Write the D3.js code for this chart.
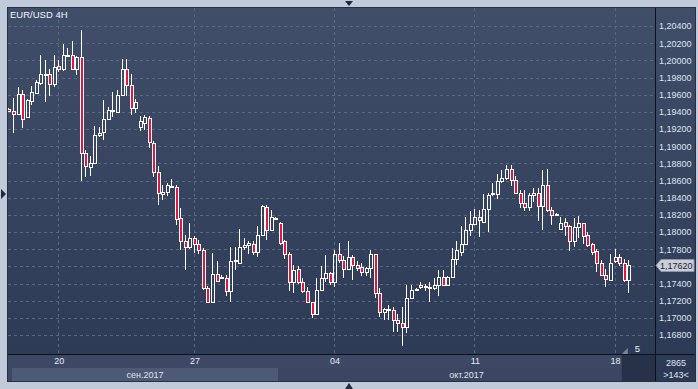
<!DOCTYPE html>
<html>
<head>
<meta charset="utf-8">
<script src="https://cdn.jsdelivr.net/npm/d3@7"></script>
<style>
  body { margin: 0; background: #c0cad8; }
  svg { display: block; font-family: "Liberation Sans", Arial, sans-serif; }
</style>
</head>
<body>
<svg id="chart" width="698" height="389"></svg>
<script>
// EUR/USD 4H candles
const opens = [
  1.1943,1.1941,1.1938,1.1961,1.1934,1.1953,1.1962,1.1974,1.1984,1.1984,1.1973,1.1993,1.1990,1.2006,1.2006,1.1990,
  1.2004,1.1892,1.1876,1.1881,1.1913,1.1916,1.1932,1.1942,1.1940,1.1960,1.1990,1.1971,1.1944,1.1922,1.1927,1.1933,
  1.1904,1.1870,1.1844,1.1847,1.1853,1.1853,1.1816,1.1790,1.1782,1.1793,1.1786,1.1779,1.1735,1.1719,1.1751,1.1747,
  1.1747,1.1731,1.1766,1.1764,1.1782,1.1785,1.1786,1.1777,1.1797,1.1829,1.1802,1.1816,1.1810,1.1789,1.1775,1.1742,
  1.1757,1.1742,1.1731,1.1718,1.1705,1.1732,1.1747,1.1752,1.1742,1.1774,1.1767,1.1757,1.1771,1.1762,1.1759,1.1753,
  1.1758,1.1774,1.1729,1.1707,1.1710,1.1709,1.1698,1.1694,1.1689,1.1723,1.1733,1.1738,1.1736,1.1736,1.1735,1.1738,
  1.1748,1.1738,1.1748,1.1769,1.1777,1.1786,1.1802,1.1809,1.1818,1.1812,1.1827,1.1844,1.1844,1.1859,1.1863,1.1874,
  1.1861,1.1846,1.1834,1.1829,1.1843,1.1845,1.1830,1.1855,1.1826,1.1821,1.1804,1.1812,1.1807,1.1789,1.1806,1.1810,
  1.1797,1.1786,1.1778,1.1764,1.1750,1.1744,1.1766,1.1771,1.1764,1.1744
];
const highs = [
  1.1945,1.1956,1.1969,1.1966,1.1955,1.1970,1.1977,1.2006,1.2000,1.1990,1.2006,1.2000,1.2019,1.2014,1.2022,1.2005,
  1.2035,1.1896,1.1888,1.1923,1.1922,1.1954,1.1946,1.1963,1.1965,1.2001,1.2002,1.1984,1.1955,1.1935,1.1936,1.1935,
  1.1906,1.1877,1.1855,1.1857,1.1862,1.1855,1.1828,1.1797,1.1810,1.1795,1.1791,1.1781,1.1737,1.1776,1.1766,1.1750,
  1.1750,1.1783,1.1782,1.1803,1.1793,1.1789,1.1789,1.1807,1.1832,1.1832,1.1826,1.1818,1.1812,1.1791,1.1777,1.1762,
  1.1760,1.1747,1.1736,1.1719,1.1746,1.1761,1.1773,1.1754,1.1779,1.1787,1.1772,1.1789,1.1773,1.1766,1.1764,1.1759,
  1.1779,1.1775,1.1735,1.1711,1.1715,1.1713,1.1705,1.1713,1.1738,1.1738,1.1735,1.1742,1.1740,1.1742,1.1746,1.1756,
  1.1756,1.1749,1.1781,1.1789,1.1807,1.1818,1.1825,1.1827,1.1826,1.1844,1.1845,1.1857,1.1868,1.1872,1.1878,1.1878,
  1.1865,1.1849,1.1849,1.1845,1.1851,1.1851,1.1872,1.1873,1.1829,1.1822,1.1817,1.1816,1.1808,1.1816,1.1819,1.1811,
  1.1800,1.1787,1.1780,1.1768,1.1757,1.1774,1.1780,1.1774,1.1769,1.1768
];
const lows = [
  1.1940,1.1915,1.1937,1.1921,1.1933,1.1948,1.1961,1.1971,1.1952,1.1959,1.1969,1.1986,1.1988,1.2004,1.1989,1.1983,
  1.1860,1.1864,1.1865,1.1880,1.1911,1.1907,1.1931,1.1934,1.1939,1.1958,1.1958,1.1936,1.1939,1.1918,1.1919,1.1898,
  1.1864,1.1832,1.1837,1.1842,1.1852,1.1808,1.1779,1.1756,1.1780,1.1776,1.1775,1.1733,1.1717,1.1717,1.1742,1.1745,
  1.1726,1.1719,1.1756,1.1763,1.1779,1.1775,1.1773,1.1771,1.1796,1.1791,1.1801,1.1814,1.1785,1.1769,1.1731,1.1729,
  1.1740,1.1729,1.1717,1.1700,1.1703,1.1731,1.1742,1.1738,1.1736,1.1764,1.1746,1.1756,1.1744,1.1755,1.1749,1.1749,
  1.1746,1.1723,1.1701,1.1697,1.1697,1.1684,1.1684,1.1667,1.1682,1.1722,1.1732,1.1734,1.1731,1.1718,1.1732,1.1725,
  1.1737,1.1737,1.1747,1.1762,1.1772,1.1785,1.1795,1.1808,1.1794,1.1811,1.1800,1.1842,1.1838,1.1857,1.1861,1.1854,
  1.1845,1.1828,1.1824,1.1824,1.1835,1.1813,1.1802,1.1823,1.1808,1.1819,1.1802,1.1795,1.1778,1.1783,1.1793,1.1786,
  1.1783,1.1773,1.1754,1.1749,1.1736,1.1743,1.1764,1.1761,1.1742,1.1729
];
const closes = [
  1.1941,1.1938,1.1961,1.1932,1.1954,1.1963,1.1975,1.1984,1.1983,1.1973,1.1992,1.1990,1.2006,1.2005,1.1990,1.2004,
  1.1892,1.1877,1.1881,1.1913,1.1915,1.1932,1.1942,1.1941,1.1960,1.1990,1.1971,1.1944,1.1951,1.1929,1.1934,1.1905,
  1.1870,1.1845,1.1847,1.1855,1.1854,1.1815,1.1790,1.1782,1.1793,1.1786,1.1779,1.1735,1.1719,1.1751,1.1743,1.1748,
  1.1731,1.1766,1.1767,1.1782,1.1785,1.1787,1.1777,1.1797,1.1830,1.1802,1.1817,1.1815,1.1787,1.1775,1.1742,1.1756,
  1.1742,1.1731,1.1718,1.1705,1.1733,1.1747,1.1752,1.1742,1.1774,1.1767,1.1757,1.1771,1.1762,1.1758,1.1753,1.1758,
  1.1774,1.1729,1.1707,1.1710,1.1709,1.1698,1.1694,1.1689,1.1723,1.1733,1.1734,1.1736,1.1737,1.1735,1.1738,1.1748,
  1.1738,1.1748,1.1769,1.1779,1.1786,1.1802,1.1809,1.1818,1.1814,1.1827,1.1843,1.1845,1.1859,1.1863,1.1874,1.1861,
  1.1846,1.1834,1.1829,1.1843,1.1845,1.1830,1.1855,1.1826,1.1820,1.1820,1.1810,1.1807,1.1789,1.1806,1.1810,1.1795,
  1.1785,1.1777,1.1764,1.1750,1.1745,1.1764,1.1771,1.1764,1.1744,1.1762
];

const priceTicks = d3.range(0, 19).map(k => +(1.168 + k * 0.002).toFixed(3));
const dayTickIndex = [11, 41, 72, 103, 134];
const dayTickLabels = ['20', '27', '04', '11', '18'];
const monthStartIndex = [0, 60];
const monthLabels = ['сен.2017', 'окт.2017'];
const lastPrice = 1.1762;
const shiftBars = 5;
const totalBars = 2865;

const svg = d3.select('#chart');
const plot = { l: 8, t: 8, r: 655, b: 354 };
const panelR = 695;
const slots = opens.length + shiftBars;

const x = d3.scaleBand().domain(d3.range(slots)).range([6.7, 6.7 + slots * 4.523]);
const y = d3.scaleLinear().domain([1.168, 1.204]).range([335.06, 26]);
const fmt = v => d3.format('.5f')(v).replace('.', ',');
const cx = i => Math.floor(x(i) + x.bandwidth() / 2);

const defs = svg.append('defs');
const grad = defs.append('linearGradient').attr('id', 'bg').attr('x1', 0).attr('y1', 0).attr('x2', 0).attr('y2', 1);
grad.append('stop').attr('offset', '0%').attr('stop-color', '#404e6a');
grad.append('stop').attr('offset', '100%').attr('stop-color', '#2c3955');
defs.append('clipPath').attr('id', 'clip').append('rect')
  .attr('x', plot.l).attr('y', plot.t).attr('width', plot.r - plot.l).attr('height', plot.b - plot.t);

// frame
svg.append('rect').attr('x', 7.5).attr('y', 7.5).attr('width', panelR - 7).attr('height', 381 - 7)
  .attr('fill', 'url(#bg)').attr('stroke', '#273043');

// small scroll arrows on the outer frame
svg.append('path').attr('d', 'M345,1 L353,1 L349,6 Z').attr('fill', '#1f2a3d');
svg.append('path').attr('d', 'M345,389 L353,389 L349,383 Z').attr('fill', '#1f2a3d');
svg.append('path').attr('d', 'M1,189 L1,199 L6,194 Z').attr('fill', '#1f2a3d');

const g = svg.append('g').attr('clip-path', 'url(#clip)');

// grid
g.selectAll('line.hg').data(priceTicks).join('line').attr('class', 'hg')
  .attr('x1', plot.l).attr('x2', plot.r)
  .attr('y1', d => Math.round(y(d)) + 0.5).attr('y2', d => Math.round(y(d)) + 0.5)
  .attr('stroke', '#5a6682').attr('stroke-dasharray', '3,3');
g.selectAll('line.vg').data(dayTickIndex).join('line').attr('class', 'vg')
  .attr('x1', d => cx(d) + 0.5).attr('x2', d => cx(d) + 0.5)
  .attr('y1', plot.t).attr('y2', plot.b)
  .attr('stroke', '#5a6682').attr('stroke-dasharray', '3,3');

// title
svg.append('text').attr('x', 10).attr('y', 18).attr('fill', '#f2f4f8')
  .attr('font-size', 9.5).text('EUR/USD 4H');

// candles
const candles = opens.map((o, i) => ({ i, o, h: highs[i], l: lows[i], c: closes[i] }));
const cg = g.append('g').attr('shape-rendering', 'crispEdges');
const up = d => d.c >= d.o;
cg.selectAll('line.wt').data(candles).join('line').attr('class', 'wt')
  .attr('x1', d => cx(d.i) + 0.5).attr('x2', d => cx(d.i) + 0.5)
  .attr('y1', d => y(d.h)).attr('y2', d => y(Math.max(d.o, d.c)))
  .attr('stroke', '#ffffff');
cg.selectAll('line.wb').data(candles).join('line').attr('class', 'wb')
  .attr('x1', d => cx(d.i) + 0.5).attr('x2', d => cx(d.i) + 0.5)
  .attr('y1', d => y(Math.min(d.o, d.c))).attr('y2', d => y(d.l))
  .attr('stroke', '#ffffff');
cg.selectAll('rect.body').data(candles).join('rect').attr('class', 'body')
  .attr('x', d => cx(d.i) - 0.5)
  .attr('width', 3)
  .attr('y', d => Math.round(y(Math.max(d.o, d.c))) + 0.5)
  .attr('height', d => Math.max(0, Math.round(y(Math.min(d.o, d.c))) - Math.round(y(Math.max(d.o, d.c)))))
  .attr('fill', d => up(d) ? 'none' : '#e3163d')
  .attr('stroke', '#ffffff');

// separators
svg.append('line').attr('x1', plot.r + 0.5).attr('x2', plot.r + 0.5).attr('y1', 8).attr('y2', 381)
  .attr('stroke', '#0d1118');

// price axis
const yAxis = d3.axisRight(y).tickValues(priceTicks.filter(v => v > 1.1675))
  .tickFormat(fmt).tickSize(0).tickPadding(4);
const ya = svg.append('g').attr('transform', `translate(${plot.r},0)`).call(yAxis);
ya.select('.domain').remove();
ya.selectAll('text').attr('fill', '#dfe5ef').attr('font-size', 9).attr('font-family', '"Liberation Sans", Arial, sans-serif');

// current price marker
const ly = Math.round(y(lastPrice));
svg.append('path')
  .attr('d', `M${plot.r + 1},${ly + 0.5} L${plot.r + 6},${ly - 5.5} L${panelR - 1},${ly - 5.5} L${panelR - 1},${ly + 6.5} L${plot.r + 6},${ly + 6.5} Z`)
  .attr('fill', '#c9ced8').attr('stroke', '#8e96a6');
svg.append('text').attr('x', plot.r + 5).attr('y', ly + 3.5).attr('fill', '#1c2333')
  .attr('font-size', 9).text(fmt(lastPrice));

// time axis area
svg.append('rect').attr('x', 8).attr('y', plot.b + 1).attr('width', plot.r - 8).attr('height', 26).attr('fill', '#3c4864');
const monthEdges = monthStartIndex.map((d, k) => k === 0 ? 12 : x(d)).concat([plot.r]);
svg.selectAll('rect.month').data(monthLabels).join('rect').attr('class', 'month')
  .attr('x', (d, k) => monthEdges[k]).attr('y', 368)
  .attr('width', (d, k) => monthEdges[k + 1] - monthEdges[k]).attr('height', 13)
  .attr('fill', (d, k) => k === 0 ? '#4d5a76' : '#3a4662');
svg.selectAll('text.month').data(monthLabels).join('text').attr('class', 'month')
  .attr('x', (d, k) => (monthEdges[k] + monthEdges[k + 1]) / 2).attr('y', 377.5)
  .attr('text-anchor', 'middle').attr('fill', '#dfe5ef').attr('font-size', 9).text(d => d);

// shifted empty area box (starts at the last two bars)
const shiftX = x(opens.length - 2);
svg.append('rect').attr('x', shiftX).attr('y', plot.b + 1).attr('width', plot.r - shiftX).attr('height', 26)
  .attr('fill', '#27324a');
svg.append('path').attr('d', `M${shiftX},${plot.b} L${shiftX + 6},${plot.b - 6} L${shiftX + 6},${plot.b} Z`).attr('fill', '#7a8498');
svg.append('text').attr('x', shiftX + 13).attr('y', plot.b - 2).attr('fill', '#f2f4f8').attr('font-size', 9.5).text(shiftBars);

const xAxis = d3.axisBottom(x).tickValues(dayTickIndex)
  .tickFormat((d, k) => dayTickLabels[k]).tickSize(0).tickPadding(4);
const xa = svg.append('g').attr('transform', `translate(0.5,${plot.b})`).call(xAxis);
xa.select('.domain').remove();
xa.selectAll('text').attr('fill', '#e6ebf3').attr('font-size', 9).attr('font-family', '"Liberation Sans", Arial, sans-serif');

svg.append('line').attr('x1', 8).attr('x2', panelR).attr('y1', plot.b + 0.5).attr('y2', plot.b + 0.5)
  .attr('stroke', '#0d1118');

// bar counters
svg.append('text').attr('x', (plot.r + panelR) / 2 + 1).attr('y', 366).attr('text-anchor', 'middle')
  .attr('fill', '#dfe5ef').attr('font-size', 9).text(totalBars);
svg.append('text').attr('x', (plot.r + panelR) / 2 + 1).attr('y', 377.5).attr('text-anchor', 'middle')
  .attr('fill', '#dfe5ef').attr('font-size', 9).text(`>${slots}<`);
</script>
</body>
</html>
